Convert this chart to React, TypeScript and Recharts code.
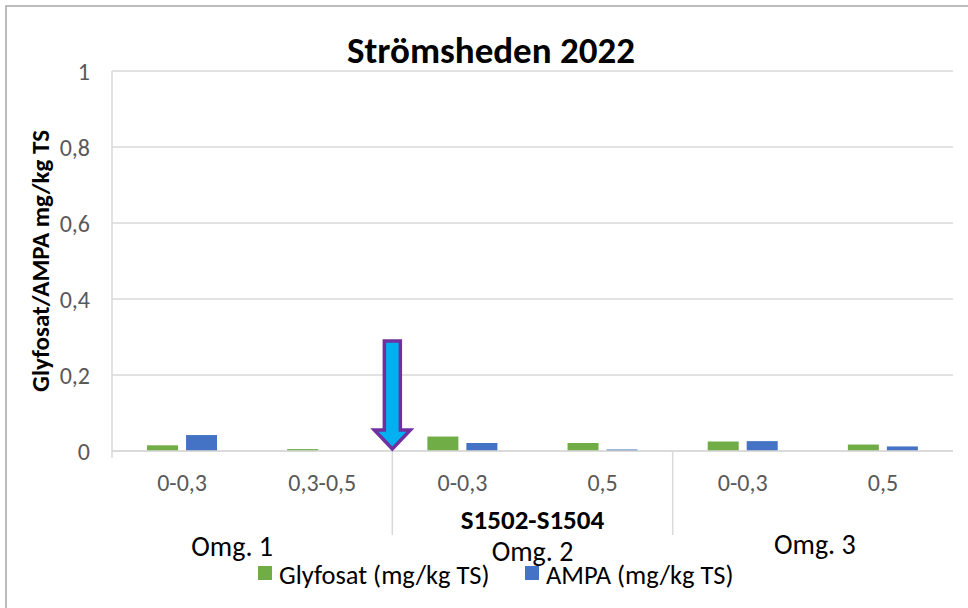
import React from 'react';
import { BarChart, Bar, XAxis, YAxis, CartesianGrid } from 'recharts';

const categories = ['0-0,3', '0,3-0,5', '0-0,3', '0,5', '0-0,3', '0,5'];
const groups = ['Omg. 1', 'Omg. 1', 'Omg. 2', 'Omg. 2', 'Omg. 3', 'Omg. 3'];
const glyfosat = [0.015, 0.005, 0.038, 0.021, 0.025, 0.017];
const ampa = [0.042, 0, 0.021, 0.004, 0.026, 0.012];
const yTicks = [0, 0.2, 0.4, 0.6, 0.8, 1];
const seriesNames = ['Glyfosat (mg/kg TS)', 'AMPA (mg/kg TS)'];
const axisTitle = 'S1502-S1504';
const yTitle = 'Glyfosat/AMPA mg/kg TS';
const chartTitle = 'Strömsheden 2022';

const data = categories.map((c, i) => ({
  cat: c,
  group: groups[i],
  g: glyfosat[i],
  a: ampa[i],
}));

const W = 968;
const H = 608;
const M = { top: 71, right: 15, bottom: 0, left: 0 };
const Y_W = 112;
const X_H = 157;
const plotLeft = M.left + Y_W;
const plotRight = W - M.right;
const plotTop = M.top;
const plotBottom = H - M.bottom - X_H;
const bw = (plotRight - plotLeft) / categories.length;

// label placement tweaks (style, per group label)
const groupLabelDx = [-20, 0, 2];
const groupLabelDy = [105, 110, 103];

const FONT = 'Carlito, Calibri, Lato, sans-serif';
const GREEN = '#70AD47';
const BLUE = '#4472C4';
const GRID = '#D9D9D9';
const GRAY = '#595959';

const XTick = (props: any) => {
  const { x, y, index, payload } = props;
  const els: React.ReactNode[] = [];
  els.push(
    <text key="c" x={x} y={y + 40} textAnchor="middle" fill={GRAY} fontSize={24} fontFamily={FONT}>
      {payload.value}
    </text>
  );
  const isStart = index === 0 || groups[index] !== groups[index - 1];
  if (isStart) {
    let n = 1;
    while (index + n < groups.length && groups[index + n] === groups[index]) n++;
    let gi = 0;
    for (let k = 1; k <= index; k++) if (groups[k] !== groups[k - 1]) gi++;
    const cx = x - bw / 2 + (n * bw) / 2 + (groupLabelDx[gi] || 0);
    els.push(
      <text key="g" x={cx} y={y + (groupLabelDy[gi] || 105)} textAnchor="middle" fill="#000" fontSize={28} fontFamily={FONT}>
        {groups[index]}
      </text>
    );
    if (index > 0) {
      els.push(<line key="s" x1={x - bw / 2} x2={x - bw / 2} y1={y} y2={y + 84} stroke={GRID} strokeWidth={1.5} />);
    } else {
      els.push(<line key="s0" x1={x - bw / 2} x2={x - bw / 2} y1={y} y2={y + 7} stroke={GRID} strokeWidth={1.5} />);
      els.push(
        <text key="t" x={(plotLeft + plotRight) / 2} y={y + 78} textAnchor="middle" fill="#000" fontSize={27} fontWeight="bold" fontFamily={FONT}>
          {axisTitle}
        </text>
      );
    }
  }
  return <g>{els}</g>;
};

const YLabel = (props: any) => {
  const vb = props.viewBox || {};
  const cx = (vb.x ?? 0) + 40;
  const cy = (vb.y ?? 0) + (vb.height ?? 0) / 2;
  return (
    <text x={cx} y={cy} transform={`rotate(-90, ${cx}, ${cy})`} textAnchor="middle" dominantBaseline="central" fontSize={25} fontWeight="bold" fontFamily={FONT} fill="#000">
      {yTitle}
    </text>
  );
};

export default function App() {
  const arrowX = plotLeft + 2 * bw;
  const tipY = plotBottom - 2;
  const arrowPath = `M ${arrowX - 8} ${plotTop + 270} L ${arrowX + 8} ${plotTop + 270} L ${arrowX + 8} ${tipY - 19} L ${arrowX + 18} ${tipY - 19} L ${arrowX} ${tipY} L ${arrowX - 18} ${tipY - 19} L ${arrowX - 8} ${tipY - 19} Z`;
  return (
    <div style={{ position: 'absolute', left: 0, top: 0, width: W, height: H, background: '#fff' }}>
      <BarChart width={W} height={H} data={data} margin={M} barCategoryGap="25%" barGap={8}>
        <CartesianGrid horizontal vertical={false} stroke={GRID} strokeWidth={1.5} />
        <XAxis
          dataKey="cat"
          height={X_H}
          interval={0}
          tickLine={false}
          tickSize={0}
          tickMargin={0}
          axisLine={{ stroke: GRID, strokeWidth: 1.5 }}
          tick={<XTick />}
        />
        <YAxis
          width={Y_W}
          domain={[0, 1]}
          ticks={yTicks}
          interval={0}
          tickLine={false}
          tickSize={0}
          tickMargin={22}
          axisLine={{ stroke: GRID, strokeWidth: 1.5 }}
          tickFormatter={(v: number) => String(v).replace('.', ',')}
          tick={{ fill: GRAY, fontSize: 24, fontFamily: FONT }}
          label={<YLabel />}
        />
        <YAxis
          yAxisId="r"
          orientation="right"
          width={0}
          tick={false}
          tickLine={false}
          axisLine={{ stroke: GRID, strokeWidth: 1.5 }}
        />
        <Bar dataKey="g" name={seriesNames[0]} fill={GREEN} isAnimationActive={false} />
        <Bar dataKey="a" name={seriesNames[1]} fill={BLUE} isAnimationActive={false} />
      </BarChart>
      <svg width={W} height={H} style={{ position: 'absolute', left: 0, top: 0, pointerEvents: 'none' }}>
        <rect x={6} y={6} width={1200} height={1200} fill="none" stroke="#A6A6A6" strokeWidth={1.5} />
        <text x={491} y={63} textAnchor="middle" fontSize={37} fontWeight="bold" fontFamily={FONT} fill="#000">
          {chartTitle}
        </text>
        <path d={arrowPath} fill="#00B0F0" stroke="#7030A0" strokeWidth={3.5} strokeLinejoin="miter" />
        <rect x={258} y={566} width={14} height={14} fill={GREEN} />
        <text x={279} y={584} fontSize={26.5} fontFamily={FONT} fill="#000">{seriesNames[0]}</text>
        <rect x={525} y={566} width={14} height={14} fill={BLUE} />
        <text x={546} y={584} fontSize={26.5} fontFamily={FONT} fill="#000">{seriesNames[1]}</text>
      </svg>
    </div>
  );
}
